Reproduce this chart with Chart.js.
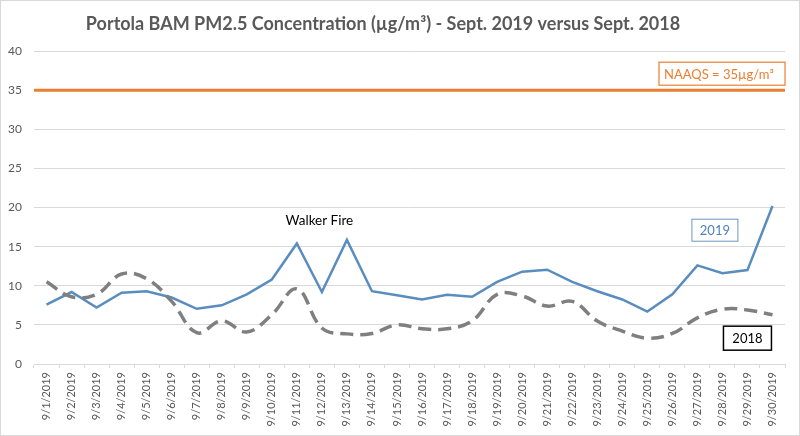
<!DOCTYPE html>
<html lang="en">
<head>
  <meta charset="UTF-8">
  <title>Portola BAM PM2.5 - Sept. 2019 vs Sept. 2018</title>
  <script src="https://cdn.jsdelivr.net/npm/chart.js"></script>
  <style>
    html, body { margin: 0; padding: 0; background: #fff; }
    #wrap { width: 800px; height: 436px; position: relative; }
  </style>
</head>
<body>
  <div id="wrap"><canvas id="graphique"></canvas></div>

  <script>
    // data
    const jours = [
      "9/1/2019", "9/2/2019", "9/3/2019", "9/4/2019", "9/5/2019", "9/6/2019",
      "9/7/2019", "9/8/2019", "9/9/2019", "9/10/2019", "9/11/2019", "9/12/2019",
      "9/13/2019", "9/14/2019", "9/15/2019", "9/16/2019", "9/17/2019", "9/18/2019",
      "9/19/2019", "9/20/2019", "9/21/2019", "9/22/2019", "9/23/2019", "9/24/2019",
      "9/25/2019", "9/26/2019", "9/27/2019", "9/28/2019", "9/29/2019", "9/30/2019"
    ];
    const pm2019 = [
      7.6, 9.2, 7.2, 9.1, 9.3, 8.5, 7.05, 7.5, 8.9, 10.8,
      15.4, 9.2, 15.85, 9.3, 8.8, 8.25, 8.85, 8.6, 10.5, 11.8,
      12.05, 10.5, 9.3, 8.25, 6.7, 8.9, 12.6, 11.6, 12.0, 20.2
    ];
    const pm2018 = [
      10.5, 8.6, 8.9, 11.5, 10.9, 8.0, 4.0, 5.5, 4.1, 6.3,
      9.6, 4.6, 3.85, 3.9, 5.0, 4.5, 4.5, 5.5, 8.9, 8.7,
      7.4, 8.0, 5.5, 4.2, 3.3, 3.9, 5.9, 7.0, 6.9, 6.3
    ];
    const naaqs = 35;
    const yTicks = [0, 5, 10, 15, 20, 25, 30, 35, 40];
    const titre = "Portola BAM PM2.5 Concentration (µg/m³) - Sept. 2019 versus Sept. 2018";

    const police = "Lato, 'Open Sans', sans-serif";
    const gris = "#595959";

    // text boxes drawn on top (centre given in category index / value)
    const etiquettes = [
      { text: "NAAQS = 35µg/m³", right: true, v: 37.1, w: 126, h: 23, size: 13, color: "#ED7D31", border: "#ED7D31", lw: 1.2 },
      { text: "2019", i: 26.7, v: 17.1, w: 46, h: 22, size: 13, color: "#4F81BD", border: "#6D95BE", lw: 1 },
      { text: "2018", i: 28, v: 3.3, w: 48, h: 24, size: 13, color: "#000", border: "#000", lw: 1.5 },
      { text: "Walker Fire", i: 10.9, v: 18.5, size: 13.5, color: "#000" }
    ];

    const decor = {
      id: "decor",
      // the NAAQS limit runs across the whole plot area, under the data
      beforeDatasetsDraw(chart) {
        const c = chart.ctx, a = chart.chartArea;
        const py = chart.scales.y.getPixelForValue(naaqs);
        c.save();
        c.strokeStyle = "#ED7D31";
        c.lineWidth = 3;
        c.beginPath();
        c.moveTo(a.left, py);
        c.lineTo(a.right, py);
        c.stroke();
        c.restore();
      },
      afterDraw(chart) {
        const c = chart.ctx, a = chart.chartArea;
        const x = chart.scales.x, y = chart.scales.y;
        c.save();
        c.strokeStyle = "#D9D9D9";
        c.lineWidth = 1;
        c.strokeRect(0.5, 0.5, chart.width - 1, chart.height - 1);

        // title, a bit left of centre like the original
        c.font = "bold 18px " + police;
        c.fillStyle = gris;
        c.textAlign = "center";
        c.textBaseline = "middle";
        c.fillText(titre, 383, 24);

        etiquettes.forEach(e => {
          const cy = y.getPixelForValue(e.v);
          let cx;
          if (e.right) cx = a.right - e.w / 2;
          else cx = x.getPixelForValue(0) + e.i * (x.getPixelForValue(1) - x.getPixelForValue(0));
          c.font = e.size + "px " + police;
          if (e.w) {
            c.fillStyle = "#fff";
            c.fillRect(cx - e.w / 2, cy - e.h / 2, e.w, e.h);
            c.strokeStyle = e.border;
            c.lineWidth = e.lw;
            c.strokeRect(cx - e.w / 2, cy - e.h / 2, e.w, e.h);
          }
          c.fillStyle = e.color;
          if (e.right) {
            c.textAlign = "left";
            c.fillText(e.text, cx - e.w / 2 + 5, cy + 1);
          } else {
            c.textAlign = "center";
            c.fillText(e.text, cx, cy + 1);
          }
        });
        c.restore();
      }
    };

    const ctx = document.getElementById("graphique").getContext("2d");
    new Chart(ctx, {
      type: "line",
      data: {
        labels: jours,
        datasets: [
          {
            label: "2018",
            data: pm2018,
            borderColor: "#7F7F7F",
            borderWidth: 3.5,
            borderDash: [13, 7],
            tension: 0.4,
            pointRadius: 0
          },
          {
            label: "2019",
            data: pm2019,
            borderColor: "#5A8DBF",
            borderWidth: 2.5,
            tension: 0,
            pointRadius: 0
          }
        ]
      },
      options: {
        responsive: true,
        maintainAspectRatio: false,
        animation: false,
        layout: { padding: { left: 0, right: 15, top: 51, bottom: 0 } },
        plugins: {
          legend: { display: false },
          tooltip: { enabled: false },
          title: { display: false }
        },
        scales: {
          x: {
            offset: true,
            grid: { display: true, drawOnChartArea: false, offset: true, color: "#D9D9D9", tickLength: 4 },
            border: { color: "#D9D9D9" },
            ticks: {
              color: gris,
              font: { family: police, size: 11 },
              minRotation: 90,
              maxRotation: 90,
              autoSkip: false,
              padding: 4
            },
            afterFit: s => { s.height = 72; }
          },
          y: {
            min: 0,
            max: 40,
            afterBuildTicks: s => { s.ticks = yTicks.map(v => ({ value: v })); },
            grid: { color: "#D9D9D9", drawTicks: false },
            border: { display: false },
            ticks: {
              color: gris,
              font: { family: police, size: 12 },
              padding: 12
            },
            afterFit: s => { s.width = 34; }
          }
        }
      },
      plugins: [decor]
    });
  </script>
</body>
</html>
